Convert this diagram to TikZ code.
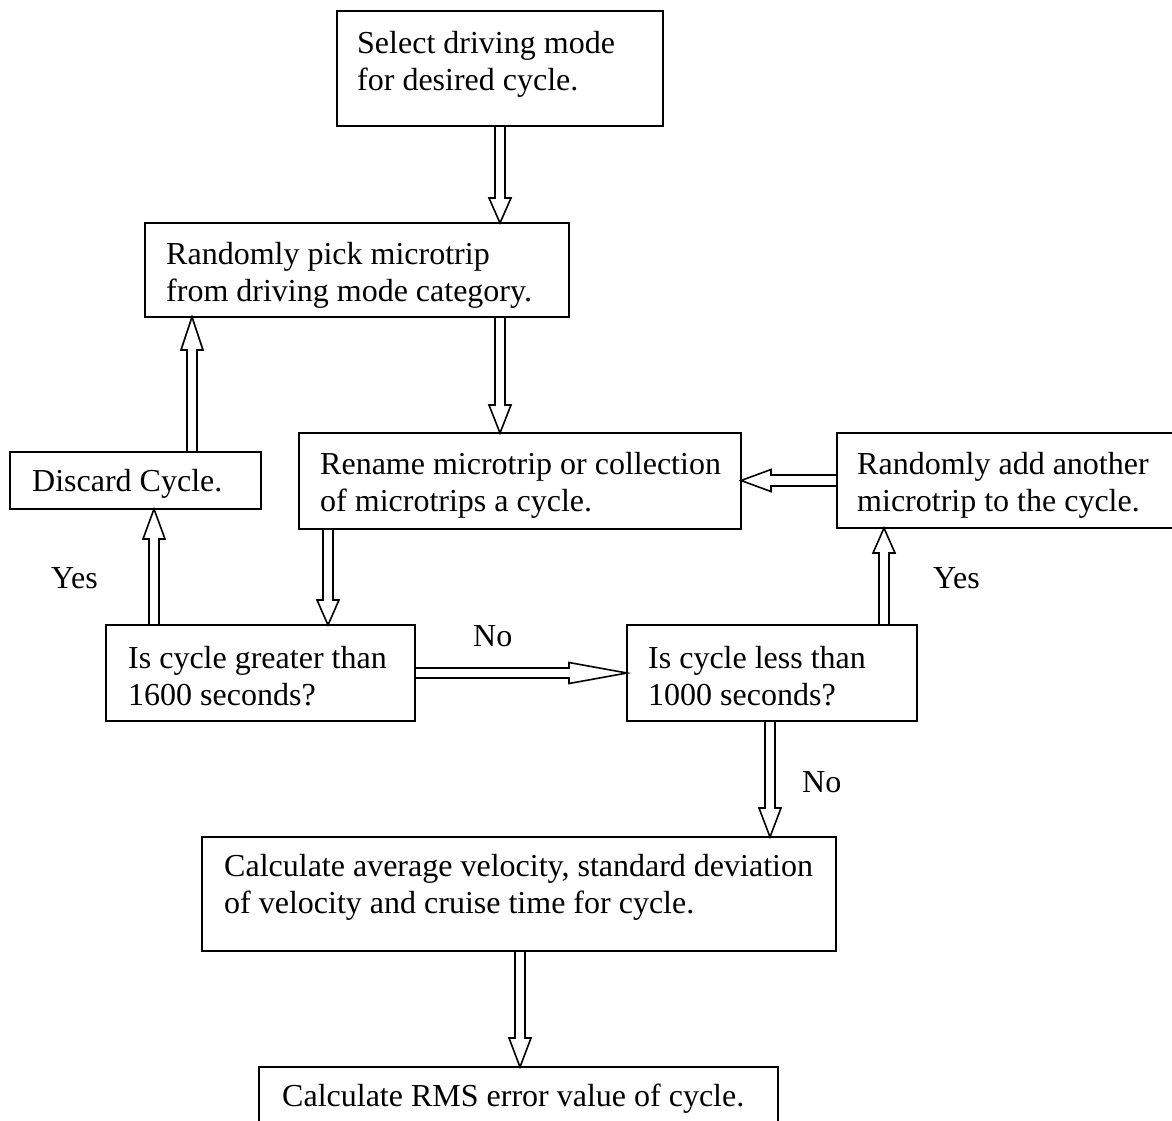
\documentclass[tikz,border=0pt]{standalone}
\usepackage{fontspec}
\setmainfont{Liberation Serif}
\usetikzlibrary{calc}
\newcommand\bahl{28pt}
\newcommand\basw{5pt}
\newcommand\bahw{11pt}
\newcommand\fl{\rule{0pt}{22pt}}
\tikzset{
  head len/.code={\def\bahl{#1}},
  shaft half/.code={\def\basw{#1}},
  head half/.code={\def\bahw{#1}},
  box/.style={draw, line width=1.8pt, rectangle, inner sep=0pt, outer sep=0pt, anchor=north west},
  txt/.style={font=\fontsize{32}{37}\selectfont, align=left, inner sep=0pt, anchor=north west},
  blockarrow/.style={draw, line width=1.6pt, line join=miter, to path={
    let \p1=($(\tikztotarget)!\bahl!(\tikztostart)$) in
    ($(\tikztostart)!\basw!90:(\tikztotarget)$) -- ($(\p1)!\basw!-90:(\tikztostart)$)
    -- ($(\p1)!\bahw!-90:(\tikztostart)$) -- (\tikztotarget)
    -- ($(\p1)!\bahw!90:(\tikztostart)$) -- ($(\p1)!\basw!90:(\tikztostart)$)
    -- ($(\tikztostart)!\basw!-90:(\tikztotarget)$)
  }}
}
\begin{document}
\begin{tikzpicture}[x=1pt,y=-1pt]
\fill[white] (0,0) rectangle (1172,1120);
\useasboundingbox (0,0) rectangle (1172,1120);

% boxes
\node[box, minimum width=326pt, minimum height=115pt] (n1) at (337,11) {};
\node[box, minimum width=424pt, minimum height=94pt] (n2) at (145,223) {};
\node[box, minimum width=251pt, minimum height=57pt] (nd) at (10,452) {};
\node[box, minimum width=442pt, minimum height=96pt] (nr) at (299,433) {};
\node[box, minimum width=336pt, minimum height=95pt] (na) at (837,433) {};
\node[box, minimum width=309pt, minimum height=96pt] (ng) at (106,625) {};
\node[box, minimum width=290pt, minimum height=96pt] (nl) at (627,625) {};
\node[box, minimum width=634pt, minimum height=114pt] (nc) at (202,837) {};
\node[box, minimum width=519pt, minimum height=60pt] (nm) at (259,1067) {};

% texts
\node[txt] (t1) at (357,31) {\fl Select driving mode\\for desired cycle.};
\node[txt] (t2) at (166,242) {\fl Randomly pick microtrip\\from driving mode category.};
\node[txt] (td) at (32,469) {\fl Discard Cycle.};
\node[txt] (tr) at (320,452) {\fl Rename microtrip or collection\\of microtrips a cycle.};
\node[txt] (ta) at (857,452) {\fl Randomly add another\\microtrip to the cycle.};
\node[txt] (tg) at (128,646) {\fl Is cycle greater than\\1600 seconds?};
\node[txt] (tl) at (648,646) {\fl Is cycle less than\\1000 seconds?};
\node[txt] (tc) at (224,854) {\fl Calculate average velocity, standard deviation\\of velocity and cruise time for cycle.};
\node[txt] (tm) at (282,1084) {\fl Calculate RMS error value of cycle.};

% labels
\node[txt] (yes1) at (51,566) {\fl Yes};
\node[txt] (yes2) at (933,566) {\fl Yes};
\node[txt] (no1) at (473,624) {\fl No};
\node[txt] (no2) at (802,770) {\fl No};

% arrows
\draw[blockarrow, head len=25pt] (n1.south) to (n1.south |- n2.north);
\draw[blockarrow, head len=28pt] ([xshift=143pt]n2.south) to ([xshift=-20pt]nr.north);
\draw[blockarrow, head len=33pt] ([xshift=56.5pt]nd.north) to ([xshift=-165pt]n2.south);
\draw[blockarrow, head len=30pt] ([xshift=-106.5pt]ng.north) to ([xshift=18.5pt]nd.south);
\draw[blockarrow, head len=25pt] ([xshift=-192pt]nr.south) to ([xshift=67.5pt]ng.north);
\draw[blockarrow, head len=58pt, head half=10.5pt] (ng.east) to (nl.west);
\draw[blockarrow, head len=30pt, shaft half=5.5pt] (na.west) to (na.west -| nr.east);
\draw[blockarrow, head len=25pt] ([xshift=112pt]nl.north) to ([xshift=-121pt]na.south);
\draw[blockarrow, head len=29pt] ([xshift=-2pt]nl.south) to ([xshift=251pt]nc.north);
\draw[blockarrow, head len=29pt] ([xshift=1pt]nc.south) to ([xshift=1.5pt]nm.north);
\end{tikzpicture}
\end{document}
